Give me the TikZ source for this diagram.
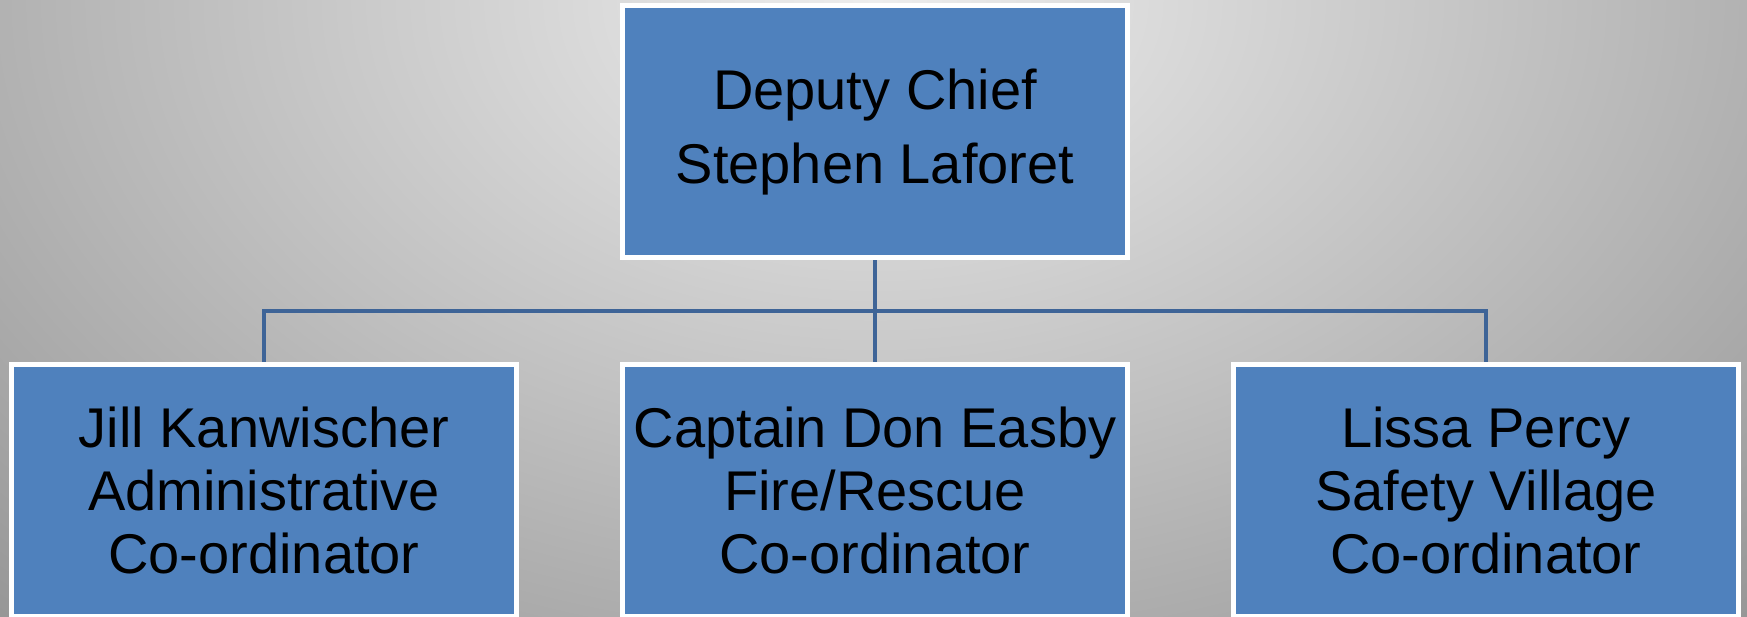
\documentclass[tikz,border=0pt]{standalone}
\usepackage{fontspec}
\setmainfont{Liberation Sans}
\definecolor{boxblue}{HTML}{4F81BD}
\definecolor{connblue}{HTML}{3E6497}
\definecolor{bgin}{HTML}{EDEDED}
\definecolor{bgout}{HTML}{979797}
\tikzset{
  orgbox/.style={draw=white, line width=5pt, fill=boxblue, minimum width=505pt,
    inner sep=0pt, align=center, text=black},
  topbox/.style={orgbox, minimum height=251.7pt, font=\fontsize{56}{74}\selectfont},
  subbox/.style={orgbox, minimum height=252pt, font=\fontsize{56}{63}\selectfont},
  conn/.style={draw=connblue, line width=4.5pt}
}
\begin{document}
\begin{tikzpicture}[x=1pt,y=-1pt]
\useasboundingbox (0,0) rectangle (1747,616);
\begin{scope}
  \clip (0,0) rectangle (1747,616);
  \shade[inner color=bgin, outer color=bgout] (-395,-847) rectangle (2145,847);
\end{scope}
\node[topbox] (top) at (875,131.65) {Deputy Chief\\Stephen Laforet};
\node[subbox] (c1) at (264,490.5) {Jill Kanwischer\\Administrative\\Co-ordinator};
\node[subbox] (c2) at (875,490.5) {Captain Don Easby\\Fire/Rescue\\Co-ordinator};
\node[subbox] (c3) at (1486,490.5) {Lissa Percy\\Safety Village\\Co-ordinator};
\draw[conn] (top.south) -- ++(0,51) -| (c1.north);
\draw[conn] (top.south) -- (c2.north);
\draw[conn] (top.south) -- ++(0,51) -| (c3.north);
\end{tikzpicture}
\end{document}
